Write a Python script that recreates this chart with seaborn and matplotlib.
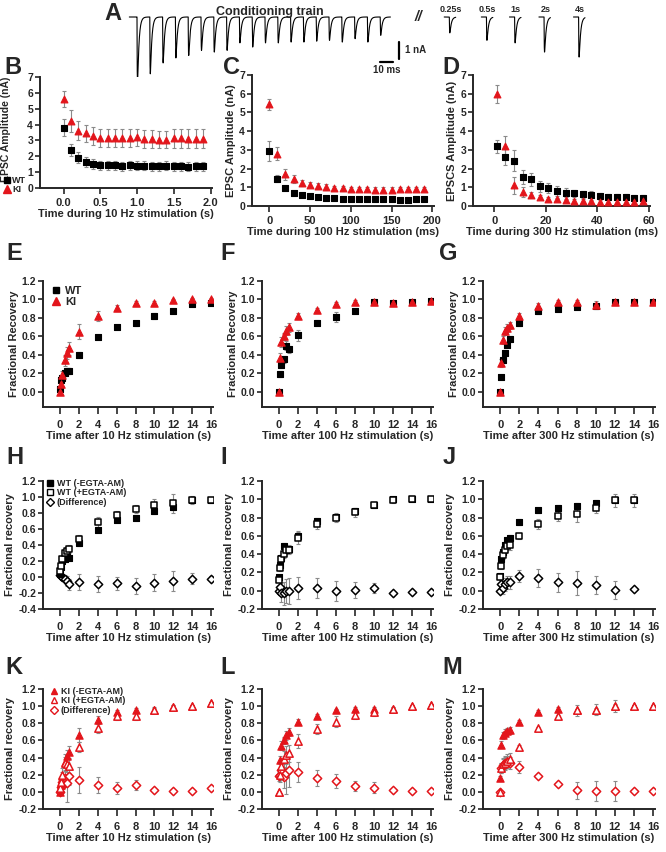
import numpy as np
import matplotlib
matplotlib.use("Agg")
import matplotlib.pyplot as plt
import seaborn as sns
from matplotlib.lines import Line2D
from matplotlib.ticker import FormatStrFormatter

sns.set_style("ticks")
plt.rcParams['font.family'] = ['Liberation Sans', 'DejaVu Sans']
plt.rcParams['font.weight'] = 'bold'
plt.rcParams['axes.labelweight'] = 'bold'
plt.rcParams['axes.unicode_minus'] = False

RED = '#e3151b'
ERR = '#8a8a8a'

# ---------------- A: example traces (peak amplitudes, nA) ----------------
train_amp = [3.9, 3.4, 2.75, 2.45, 2.3, 2.0, 2.1, 2.0, 1.55, 1.8,
             1.55, 1.55, 1.5, 1.5, 1.45, 1.4, 1.5, 1.3, 1.5, 1.1]
train_onsets = [0, 10, 20, 30, 40, 50, 60, 70, 80, 90,
                100, 110, 120, 130, 140, 150, 160, 170, 180, 190]
test_amp = [0.95, 1.4, 1.55, 2.1, 2.4]
test_labels = ['0.25s', '0.5s', '1s', '2s', '4s']

# ---------------- B: 10 Hz train ----------------
b_t = [0.0, 0.1, 0.2, 0.3, 0.4, 0.5, 0.6, 0.7, 0.8, 0.9,
       1.0, 1.1, 1.2, 1.3, 1.4, 1.5, 1.6, 1.7, 1.8, 1.9]
b_wt = [3.8, 2.4, 1.9, 1.65, 1.52, 1.42, 1.42, 1.43, 1.37, 1.42,
        1.40, 1.40, 1.38, 1.37, 1.40, 1.36, 1.37, 1.33, 1.38, 1.37]
b_wt_err = [0.55, 0.4, 0.35, 0.3, 0.3, 0.28, 0.28, 0.28, 0.28, 0.28,
            0.28, 0.28, 0.28, 0.28, 0.28, 0.28, 0.28, 0.28, 0.28, 0.28]
b_ki = [5.6, 4.25, 3.62, 3.45, 3.28, 3.15, 3.15, 3.15, 3.15, 3.15,
        3.2, 3.1, 3.1, 3.05, 3.05, 3.15, 3.15, 3.1, 3.1, 3.12]
b_ki_err = [0.5, 0.7, 0.6, 0.55, 0.55, 0.55, 0.55, 0.55, 0.55, 0.55,
            0.55, 0.55, 0.55, 0.55, 0.55, 0.6, 0.6, 0.6, 0.6, 0.6]

# ---------------- C: 100 Hz train ----------------
c_t = [0, 10, 20, 30, 40, 50, 60, 70, 80, 90,
       100, 110, 120, 130, 140, 150, 160, 170, 180, 190]
c_wt = [2.95, 1.45, 0.95, 0.72, 0.6, 0.53, 0.47, 0.43, 0.41, 0.39,
        0.38, 0.37, 0.36, 0.36, 0.36, 0.35, 0.33, 0.34, 0.35, 0.4]
c_wt_err = [0.55, 0.18, 0.08, 0.06, 0.05, 0.05, 0.04, 0.04, 0.04, 0.04,
            0.04, 0.04, 0.04, 0.04, 0.04, 0.04, 0.04, 0.04, 0.04, 0.04]
c_ki = [5.43, 2.8, 1.7, 1.43, 1.23, 1.14, 1.07, 1.0, 0.97, 0.94,
        0.92, 0.9, 0.9, 0.88, 0.88, 0.88, 0.9, 0.9, 0.9, 0.9]
c_ki_err = [0.3, 0.35, 0.3, 0.2, 0.15, 0.15, 0.15, 0.15, 0.12, 0.12,
            0.12, 0.12, 0.12, 0.12, 0.12, 0.12, 0.12, 0.12, 0.12, 0.12]

# ---------------- D: 300 Hz train ----------------
d_t = [1.0, 4.3, 7.7, 11.0, 14.3, 17.7, 21.0, 24.3, 27.7,
       31.0, 34.3, 37.7, 41.0, 44.3, 47.7, 51.0, 54.3, 57.7]
d_wt = [3.2, 2.62, 2.42, 1.55, 1.42, 1.05, 0.95, 0.8, 0.72,
        0.68, 0.62, 0.6, 0.52, 0.5, 0.5, 0.48, 0.45, 0.45]
d_wt_err = [0.35, 0.45, 0.55, 0.4, 0.35, 0.3, 0.28, 0.25, 0.22,
            0.2, 0.2, 0.18, 0.15, 0.15, 0.15, 0.15, 0.15, 0.15]
d_ki = [5.97, 3.2, 1.1, 0.75, 0.58, 0.48, 0.4, 0.35, 0.3,
        0.28, 0.27, 0.25, 0.24, 0.23, 0.22, 0.22, 0.22, 0.25]
d_ki_err = [0.48, 0.55, 0.45, 0.25, 0.15, 0.12, 0.1, 0.08, 0.08,
            0.08, 0.08, 0.08, 0.08, 0.08, 0.08, 0.08, 0.08, 0.08]

# ---------------- recovery time points (s) ----------------
t_rec = [0, 0.1, 0.25, 0.5, 0.75, 1, 2, 4, 6, 8, 10, 12, 14, 16]

# E-G: WT vs KI
e_wt = [0.03, 0.13, 0.15, 0.2, 0.22, 0.23, 0.40, 0.59, 0.70, 0.74, 0.82, 0.87, 0.95, 0.96]
e_wt_err = [0.01, 0.02, 0.03, 0.03, 0.03, 0.03, 0.03, 0.02, 0.02, 0.03, 0.03, 0.02, 0.02, 0.02]
e_ki = [0.0, 0.08, 0.18, 0.34, 0.42, 0.47, 0.65, 0.82, 0.91, 0.96, 0.96, 0.99, 1.0, 1.0]
e_ki_err = [0.0, 0.03, 0.05, 0.06, 0.07, 0.07, 0.08, 0.05, 0.03, 0.02, 0.02, 0.02, 0.02, 0.02]

f_wt = [0.0, 0.19, 0.29, 0.35, 0.5, 0.46, 0.61, 0.75, 0.81, 0.87, 0.97, 0.96, 0.97, 0.98]
f_wt_err = [0.0, 0.03, 0.03, 0.04, 0.05, 0.04, 0.06, 0.03, 0.05, 0.02, 0.03, 0.02, 0.02, 0.02]
f_ki = [0.0, 0.37, 0.54, 0.6, 0.66, 0.7, 0.82, 0.89, 0.95, 0.97, 0.97, 0.96, 0.97, 0.98]
f_ki_err = [0.0, 0.05, 0.05, 0.04, 0.05, 0.05, 0.03, 0.02, 0.02, 0.02, 0.02, 0.02, 0.02, 0.02]

g_wt = [0.0, 0.16, 0.34, 0.42, 0.51, 0.57, 0.74, 0.87, 0.9, 0.92, 0.93, 0.97, 0.97, 0.97]
g_wt_err = [0.0, 0.02, 0.03, 0.03, 0.03, 0.03, 0.03, 0.03, 0.02, 0.02, 0.02, 0.02, 0.02, 0.02]
g_ki = [0.0, 0.31, 0.56, 0.66, 0.69, 0.72, 0.82, 0.93, 0.97, 0.97, 0.94, 0.97, 0.97, 0.97]
g_ki_err = [0.0, 0.04, 0.04, 0.04, 0.04, 0.04, 0.03, 0.03, 0.02, 0.02, 0.04, 0.02, 0.02, 0.02]

# H-J: WT -/+ EGTA-AM and difference
h_ctl = [0.04, 0.12, 0.2, 0.22, 0.25, 0.24, 0.42, 0.59, 0.71, 0.74, 0.82, 0.87, 0.96, 0.96]
h_ctl_err = [0.01, 0.02, 0.03, 0.03, 0.03, 0.03, 0.03, 0.02, 0.02, 0.03, 0.03, 0.03, 0.02, 0.02]
h_egta = [0.08, 0.14, 0.23, 0.3, 0.33, 0.35, 0.47, 0.69, 0.78, 0.85, 0.9, 0.92, 0.96, 0.96]
h_egta_err = [0.02, 0.03, 0.03, 0.04, 0.04, 0.05, 0.06, 0.06, 0.05, 0.05, 0.08, 0.12, 0.05, 0.03]
h_diff = [0.03, 0.01, 0.0, -0.03, -0.05, -0.09, -0.06, -0.09, -0.08, -0.11, -0.07, -0.05, -0.02, -0.02]
h_diff_err = [0.02, 0.03, 0.04, 0.05, 0.06, 0.07, 0.1, 0.1, 0.08, 0.1, 0.11, 0.13, 0.07, 0.03]

i_ctl = [0.15, 0.28, 0.36, 0.49, 0.45, 0.46, 0.6, 0.76, 0.81, 0.87, 0.94, 1.0, 1.0, 1.0]
i_ctl_err = [0.02, 0.03, 0.03, 0.03, 0.03, 0.03, 0.04, 0.03, 0.03, 0.03, 0.02, 0.01, 0.01, 0.01]
i_egta = [0.12, 0.25, 0.35, 0.4, 0.45, 0.45, 0.58, 0.73, 0.8, 0.86, 0.94, 0.99, 1.0, 1.0]
i_egta_err = [0.02, 0.03, 0.04, 0.04, 0.05, 0.05, 0.07, 0.05, 0.05, 0.05, 0.03, 0.03, 0.01, 0.01]
i_diff = [0.0, 0.04, -0.02, -0.03, 0.0, 0.0, 0.03, 0.03, 0.0, 0.01, 0.03, -0.02, -0.01, -0.01]
i_diff_err = [0.02, 0.05, 0.1, 0.13, 0.13, 0.14, 0.12, 0.11, 0.11, 0.09, 0.05, 0.01, 0.01, 0.01]

j_t = [0, 0.1, 0.25, 0.5, 0.75, 1, 2, 4, 6, 8, 10, 12, 14]
j_ctl = [0.16, 0.35, 0.42, 0.5, 0.55, 0.58, 0.75, 0.88, 0.91, 0.93, 0.96, 0.99, 0.99]
j_ctl_err = [0.02, 0.03, 0.03, 0.03, 0.03, 0.03, 0.03, 0.03, 0.03, 0.03, 0.03, 0.02, 0.02]
j_egta = [0.15, 0.27, 0.39, 0.45, 0.49, 0.5, 0.6, 0.73, 0.82, 0.84, 0.91, 0.99, 0.99]
j_egta_err = [0.02, 0.03, 0.04, 0.04, 0.05, 0.05, 0.03, 0.05, 0.06, 0.09, 0.06, 0.07, 0.07]
j_diff = [0.0, 0.07, 0.03, 0.07, 0.09, 0.09, 0.16, 0.14, 0.09, 0.085, 0.06, 0.01, 0.02]
j_diff_err = [0.01, 0.05, 0.07, 0.07, 0.07, 0.07, 0.07, 0.1, 0.1, 0.13, 0.1, 0.1, 0.01]

# K-M: KI -/+ EGTA-AM and difference
k_ctl = [0.0, 0.08, 0.18, 0.35, 0.42, 0.47, 0.66, 0.84, 0.93, 0.96, 0.96, 0.99, 1.0, 1.04]
k_ctl_err = [0.0, 0.03, 0.05, 0.06, 0.07, 0.07, 0.08, 0.05, 0.03, 0.02, 0.02, 0.02, 0.01, 0.01]
k_egta = [0.04, 0.12, 0.2, 0.34, 0.33, 0.3, 0.52, 0.74, 0.88, 0.88, 0.96, 0.99, 1.0, 1.04]
k_egta_err = [0.02, 0.05, 0.08, 0.1, 0.1, 0.08, 0.06, 0.05, 0.04, 0.04, 0.03, 0.02, 0.01, 0.01]
k_diff = [0.0, 0.06, 0.12, 0.16, 0.1, 0.18, 0.14, 0.08, 0.04, 0.08, 0.02, 0.01, 0.01, 0.05]
k_diff_err = [0.02, 0.05, 0.08, 0.1, 0.22, 0.1, 0.15, 0.09, 0.07, 0.06, 0.02, 0.01, 0.01, 0.01]

l_ctl = [0.0, 0.37, 0.54, 0.6, 0.66, 0.7, 0.82, 0.89, 0.95, 0.97, 0.97, 0.97, 1.0, 1.01]
l_ctl_err = [0.0, 0.05, 0.05, 0.04, 0.05, 0.05, 0.03, 0.02, 0.02, 0.02, 0.02, 0.02, 0.01, 0.01]
l_egta = [0.0, 0.2, 0.3, 0.38, 0.43, 0.45, 0.59, 0.73, 0.82, 0.9, 0.93, 0.97, 1.0, 1.01]
l_egta_err = [0.0, 0.06, 0.08, 0.1, 0.1, 0.1, 0.08, 0.06, 0.06, 0.05, 0.04, 0.02, 0.01, 0.01]
l_diff = [0.18, 0.2, 0.25, 0.17, 0.22, 0.26, 0.23, 0.16, 0.13, 0.07, 0.05, 0.02, 0.01, 0.01]
l_diff_err = [0.05, 0.08, 0.1, 0.12, 0.25, 0.2, 0.12, 0.09, 0.08, 0.06, 0.06, 0.02, 0.01, 0.01]

m_ctl = [0.16, 0.55, 0.66, 0.69, 0.71, 0.72, 0.82, 0.93, 0.97, 0.95, 0.96, 1.0, 1.0, 1.0]
m_ctl_err = [0.03, 0.04, 0.04, 0.04, 0.04, 0.04, 0.02, 0.02, 0.02, 0.02, 0.02, 0.02, 0.01, 0.01]
m_egta = [0.0, 0.28, 0.32, 0.34, 0.36, 0.38, 0.52, 0.74, 0.88, 0.95, 0.96, 1.0, 1.0, 1.0]
m_egta_err = [0.0, 0.06, 0.07, 0.08, 0.08, 0.07, 0.03, 0.02, 0.02, 0.06, 0.06, 0.07, 0.01, 0.01]
m_diff = [0.0, 0.28, 0.31, 0.34, 0.35, 0.34, 0.29, 0.18, 0.09, 0.02, 0.01, 0.01, 0.01, 0.01]
m_diff_err = [0.01, 0.06, 0.07, 0.07, 0.07, 0.07, 0.07, 0.02, 0.02, 0.1, 0.12, 0.12, 0.01, 0.01]

# ---------------- figure ----------------
W, H = 666, 852
fig = plt.figure(figsize=(W / 100, H / 100), dpi=100)


def add_ax(l, t, r, b):
    # pixel box -> figure fraction
    return fig.add_axes([l / W, 1 - b / H, (r - l) / W, (b - t) / H])


def fx(px):
    return px / W


def fy(py):
    return 1 - py / H


def style(ax, xlabel, ylabel, xticks, yticks, xlim, ylim, yfmt=None, xfmt=None,
          xlen=4, xpad=3):
    sns.despine(ax=ax)
    for s in ['left', 'bottom']:
        ax.spines[s].set_linewidth(1.4)
    ax.set_xlim(xlim)
    ax.set_ylim(ylim)
    ax.set_xticks(xticks)
    ax.set_yticks(yticks)
    if yfmt:
        ax.yaxis.set_major_formatter(FormatStrFormatter(yfmt))
    if xfmt:
        ax.xaxis.set_major_formatter(FormatStrFormatter(xfmt))
    ax.tick_params(axis='y', width=1.2, length=3.5, labelsize=7.5, pad=1.5)
    ax.tick_params(axis='x', width=1.2, length=xlen, labelsize=8, pad=xpad)
    ax.set_xlabel(xlabel, fontsize=8, labelpad=1)
    ax.set_ylabel(ylabel, fontsize=8, labelpad=2)


def points(ax, x, y, err, marker, face, edge, size, lw=0.8):
    ax.errorbar(x, y, yerr=err, fmt='none', ecolor=ERR, elinewidth=0.8,
                capsize=1.6, capthick=0.8, zorder=2)
    sns.scatterplot(x=x, y=y, marker=marker, color=face, edgecolor=edge,
                    linewidth=lw, s=size, ax=ax, zorder=3, legend=False)


def letter(txt, x, y):
    fig.text(fx(x), fy(y), txt, fontsize=17, fontweight='bold', ha='center', va='center')


def legend(ax, handles, labels, x, y, fs, tp=0.4):
    ax.legend(handles, labels, loc='upper left', bbox_to_anchor=(fx(x), fy(y)),
              bbox_transform=fig.transFigure, frameon=False, fontsize=fs,
              handlelength=0.8, handletextpad=tp, labelspacing=0.05,
              borderaxespad=0, borderpad=0)


# ---- A: traces ----
ax_a = add_ax(120, 3, 600, 95)
ax_a.axis('off')
ms_px, na_px = 1.28, 16.7
ax_a.set_xlim(-(137 - 120) / ms_px, -(137 - 120) / ms_px + 480 / ms_px)
ax_a.set_ylim(-(95 - 17) / na_px, (17 - 3) / na_px)


def epsc(t, t0, amp):
    s = np.clip(t - t0, 0, None)
    shape = (1 - np.exp(-s / 0.22)) * np.exp(-s / 1.1)
    grid = np.linspace(0, 5, 2000)
    peak = ((1 - np.exp(-grid / 0.22)) * np.exp(-grid / 1.1)).max()
    return -amp * shape / peak


tt = np.linspace(-6, 198, 12000)
trace = np.zeros_like(tt)
for t0, a in zip(train_onsets, train_amp):
    trace += epsc(tt, t0, a)
ax_a.plot(tt, trace, color='black', lw=0.8)

test_pos = [244, 273, 295, 318, 345]  # layout positions on the trace axis (ms)
for pos, a, lab in zip(test_pos, test_amp, test_labels):
    tl = np.linspace(pos - 4, pos + 5, 1200)
    ax_a.plot(tl, epsc(tl, pos, a), color='black', lw=0.8)
    ax_a.text(pos + 1, 0.2, lab, fontsize=6.5, ha='center', va='bottom')

ax_a.text(104, 0.3, 'Conditioning train', fontsize=9, ha='center', va='center')
ax_a.text((418 - 137) / ms_px, 0.0, '//', fontsize=10, fontstyle='italic',
          ha='center', va='center')
# scale bars: 1 nA and 10 ms
ax_a.plot([205, 205], [-1.5, -2.5], color='black', lw=1.6)
ax_a.text(209, -2.0, '1 nA', fontsize=7, ha='left', va='center')
ax_a.plot([190, 200], [-2.7, -2.7], color='black', lw=1.6)
ax_a.text(195, -3.2, '10 ms', fontsize=7, ha='center', va='center')

# ---- B, C, D ----
sq_small, tri_small = 14, 24
ax_b = add_ax(40, 77, 212, 188)
points(ax_b, b_t, b_wt, b_wt_err, 's', 'black', 'black', sq_small)
points(ax_b, b_t, b_ki, b_ki_err, '^', RED, RED, tri_small)
style(ax_b, 'Time during 10 Hz stimulation (s)', 'EPSC Amplitude (nA)',
      [0, 0.5, 1.0, 1.5, 2.0], range(8), (-0.32, 2.02), (0, 7), xfmt='%.1f')
ax_b.yaxis.label.set_fontsize(7.5)
ax_b.yaxis.set_label_coords(-0.17, 0.53)
legend(ax_b, [Line2D([], [], marker='s', ls='none', color='black', markersize=4.5),
              Line2D([], [], marker='^', ls='none', color=RED, markersize=5.5)],
       ['WT', 'KI'], 3, 176, 6.5, tp=0.25)

ax_c = add_ax(252, 75, 434, 206)
points(ax_c, c_t, c_wt, c_wt_err, 's', 'black', 'black', sq_small)
points(ax_c, c_t, c_ki, c_ki_err, '^', RED, RED, tri_small)
style(ax_c, 'Time during 100 Hz stimulation (ms)', 'EPSC Amplitude (nA)',
      [0, 50, 100, 150, 200], range(8), (-21, 202), (0, 7))

ax_d = add_ax(473, 75, 650, 206)
points(ax_d, d_t, d_wt, d_wt_err, 's', 'black', 'black', sq_small)
points(ax_d, d_t, d_ki, d_ki_err, '^', RED, RED, tri_small)
style(ax_d, 'Time during 300 Hz stimulation (ms)', 'EPSCS Amplitude (nA)',
      [0, 20, 40, 60], range(8), (-8.3, 60.5), (0, 7))

# ---- recovery panels ----
rec_xt = [0, 2, 4, 6, 8, 10, 12, 14, 16]
rec_xlim = (-1.8, 16.2)
sq, tri, dia = 18, 28, 18
cols = [(43, 213), (262, 433), (483, 655)]
freqs = ['10 Hz', '100 Hz', '300 Hz']

# E-G
eg_data = [(e_wt, e_wt_err, e_ki, e_ki_err), (f_wt, f_wt_err, f_ki, f_ki_err),
           (g_wt, g_wt_err, g_ki, g_ki_err)]
rec_yt = [0, 0.2, 0.4, 0.6, 0.8, 1.0, 1.2]
for (l, r), fq, (wt, wte, ki, kie) in zip(cols, freqs, eg_data):
    ax = add_ax(l, 281, r, 407)
    points(ax, t_rec, wt, wte, 's', 'black', 'black', sq)
    points(ax, t_rec, ki, kie, '^', RED, RED, tri)
    style(ax, f'Time after {fq} stimulation (s)', 'Fractional Recovery',
          rec_xt, rec_yt, rec_xlim, (-0.165, 1.2), yfmt='%.1f', xlen=5, xpad=4)
    if l == 43:
        legend(ax, [Line2D([], [], marker='s', ls='none', color='black', markersize=5),
                    Line2D([], [], marker='^', ls='none', color=RED, markersize=6)],
               ['WT', 'KI'], 52, 286, 8)

# H-J
hj_data = [(t_rec, h_ctl, h_ctl_err, h_egta, h_egta_err, h_diff, h_diff_err, (-0.4, 1.2)),
           (t_rec, i_ctl, i_ctl_err, i_egta, i_egta_err, i_diff, i_diff_err, (-0.2, 1.2)),
           (j_t, j_ctl, j_ctl_err, j_egta, j_egta_err, j_diff, j_diff_err, (-0.2, 1.2))]
for (l, r), fq, (tx, c1, c1e, c2, c2e, dd, dde, yl) in zip(cols, freqs, hj_data):
    ax = add_ax(l, 481, r, 609)
    points(ax, tx, dd, dde, 'D', 'white', 'black', dia, lw=1.1)
    points(ax, tx, c1, c1e, 's', 'black', 'black', sq)
    points(ax, tx, c2, c2e, 's', 'white', 'black', sq, lw=1.1)
    yt = [round(v, 1) for v in np.arange(yl[0], 1.21, 0.2)]
    style(ax, f'Time after {fq} stimulation (s)', 'Fractional recovery',
          rec_xt, yt, rec_xlim, yl, yfmt='%.1f', xlen=5, xpad=4)
    if l == 43:
        legend(ax, [Line2D([], [], marker='s', ls='none', color='black', markersize=4.5),
                    Line2D([], [], marker='s', ls='none', mfc='white', mec='black', mew=1, markersize=4.5),
                    Line2D([], [], marker='D', ls='none', mfc='white', mec='black', mew=1, markersize=4)],
               ['WT (-EGTA-AM)', 'WT (+EGTA-AM)', '(Difference)'], 46, 479, 6.5)

# K-M
km_data = [(k_ctl, k_ctl_err, k_egta, k_egta_err, k_diff, k_diff_err),
           (l_ctl, l_ctl_err, l_egta, l_egta_err, l_diff, l_diff_err),
           (m_ctl, m_ctl_err, m_egta, m_egta_err, m_diff, m_diff_err)]
for (l, r), fq, (c1, c1e, c2, c2e, dd, dde) in zip(cols, freqs, km_data):
    ax = add_ax(l, 689, r, 809)
    points(ax, t_rec, dd, dde, 'D', 'white', RED, dia, lw=1.1)
    points(ax, t_rec, c1, c1e, '^', RED, RED, tri)
    points(ax, t_rec, c2, c2e, '^', 'white', RED, tri, lw=1.1)
    yt = [-0.2, 0, 0.2, 0.4, 0.6, 0.8, 1.0, 1.2]
    style(ax, f'Time after {fq} stimulation (s)', 'Fractional recovery',
          rec_xt, yt, rec_xlim, (-0.2, 1.2), yfmt='%.1f', xlen=5, xpad=4)
    if l == 43:
        legend(ax, [Line2D([], [], marker='^', ls='none', color=RED, markersize=5),
                    Line2D([], [], marker='^', ls='none', mfc='white', mec=RED, mew=1, markersize=5),
                    Line2D([], [], marker='D', ls='none', mfc='white', mec=RED, mew=1, markersize=4)],
               ['KI (-EGTA-AM)', 'KI (+EGTA-AM)', '(Difference)'], 50, 687, 6.5)

# panel letters
for txt, x, y in [('A', 113, 14), ('B', 13, 68), ('C', 231, 68), ('D', 451, 68),
                  ('E', 14, 253), ('F', 228, 253), ('G', 448, 253),
                  ('H', 15, 457), ('I', 224, 457), ('J', 449, 457),
                  ('K', 14, 668), ('L', 228, 668), ('M', 452, 668)]:
    letter(txt, x, y)

fig.savefig('out.png', dpi=100)
